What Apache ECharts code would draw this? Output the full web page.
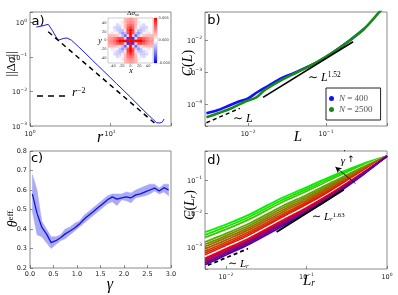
<!DOCTYPE html>
<html><head><meta charset="utf-8">
<script src="https://cdn.jsdelivr.net/npm/echarts@6.0.0/dist/echarts.min.js"></script>
<style>html,body{margin:0;padding:0;background:#fff;overflow:hidden}#chart{width:398px;height:295px}</style>
</head><body><div id="chart"></div>
<script>
// ===== Panel a: ||Δσ|| versus r =====
const aR      = [1.2,1.4,1.69,1.9,2.1,2.26,2.6,2.9,3.3,4,5,6,7,8,10,12,15,18,22,26,30,34,38,42,45,47.3];
const aDSigma = [0.75,0.8,0.9,0.6,0.4,0.31,0.35,0.36,0.31,0.205,0.125,0.082,0.058,0.043,0.026,0.0172,0.0104,0.0069,0.0043,0.0029,0.0021,0.0016,0.00125,0.00122,0.0013,0.0016];
const aGuideR   = [1.69, 36.5];
const aGuideVal = [0.547, 0.00118];
// inset: Δσ_xx map in units of 1e-3, one octant (row = larger |index|, col = smaller |index|)
const insetStep = 6;
const insetOctant = [
  [10],
  [10,-4],
  [10,1.0,-3],
  [7,3.4,-1.2,-2.1],
  [5.5,3.7,0.5,-1.2,-1.3],
  [4,3.1,1.2,-0.3,-0.9,-1.0],
  [3,2.6,1.4,0.3,-0.45,-0.75,null],
  [2.4,2.1,1.4,0.6,-0.1,null,null,null],
  [2,1.8,1.4,null,null,null,null,null,null]
];
const insetCbar = [-5, 5];

// ===== Panel b: C(L) =====
const bL400  = [0.00292,0.00412,0.00554,0.00745,0.01,0.0134,0.018,0.0265,0.0397,0.0716,0.117,0.191,0.313];
const bC400  = [5.13e-5,6.49e-5,8.66e-5,1.18e-4,1.51e-4,2.42e-4,3.65e-4,6.35e-4,9.55e-4,1.85e-3,3.8e-3,8.8e-3,0.023];
const bL2500 = [0.00292,0.00412,0.00611,0.00907,0.01277,0.01636,0.02674,0.0438,0.0716,0.117,0.191,0.313,0.487,0.56];
const bC2500 = [3.84e-5,5.13e-5,7.35e-5,1.18e-4,1.62e-4,2.74e-4,5.62e-4,1.02e-3,1.87e-3,3.84e-3,8.85e-3,0.0232,0.0766,0.11];
const bFitL = [0.01556, 0.222], bFitC = [1.62e-4, 8.85e-3];
const bLinL = [0.00292, 0.00783], bLinC = [2.61e-5, 7.35e-5];
const bNames = ['N = 400', 'N = 2500'];

// ===== Panel c: θ_eff versus γ =====
const cGamma = [0.05,0.15,0.25,0.35,0.45,0.55,0.65,0.75,0.85,0.95,1.05,1.15,1.25,1.35,1.45,1.55,1.65,1.75,1.85,1.95,2.05,2.15,2.25,2.35,2.45,2.55,2.65,2.75,2.85,2.95];
const cMean  = [0.58,0.48,0.41,0.375,0.33,0.34,0.355,0.375,0.39,0.405,0.425,0.45,0.47,0.49,0.51,0.53,0.55,0.565,0.553,0.56,0.565,0.56,0.575,0.58,0.59,0.60,0.61,0.595,0.612,0.60];
const cUpper = [0.68,0.60,0.44,0.40,0.36,0.36,0.37,0.40,0.41,0.43,0.44,0.47,0.49,0.51,0.53,0.55,0.57,0.58,0.58,0.58,0.59,0.585,0.60,0.61,0.62,0.63,0.63,0.61,0.63,0.63];
const cLower = [0.49,0.37,0.36,0.33,0.30,0.32,0.34,0.35,0.37,0.39,0.41,0.43,0.45,0.47,0.49,0.51,0.53,0.54,0.52,0.55,0.545,0.535,0.56,0.565,0.57,0.58,0.595,0.58,0.59,0.57];

// ===== Panel d: C(L_r) for increasing shear rate =====
const dL = [0.0055,0.01,0.02,0.05,0.1,0.2,0.5,1];
const dCurvesLog10 = [
  [-2.56,-2.33,-2.02,-1.53,-1.22,-0.90,-0.52,-0.29],
  [-2.64,-2.40,-2.09,-1.60,-1.28,-0.95,-0.546,-0.29],
  [-2.715,-2.476,-2.161,-1.666,-1.342,-1.001,-0.573,-0.29],
  [-2.793,-2.548,-2.231,-1.734,-1.402,-1.051,-0.599,-0.29],
  [-2.851,-2.603,-2.284,-1.785,-1.448,-1.089,-0.619,-0.29],
  [-2.919,-2.667,-2.346,-1.844,-1.501,-1.133,-0.642,-0.29],
  [-2.987,-2.73,-2.407,-1.904,-1.554,-1.177,-0.665,-0.29],
  [-3.055,-2.794,-2.469,-1.963,-1.608,-1.221,-0.688,-0.29],
  [-3.123,-2.858,-2.53,-2.023,-1.661,-1.265,-0.711,-0.29],
  [-3.181,-2.912,-2.583,-2.074,-1.706,-1.303,-0.731,-0.29],
  [-3.239,-2.967,-2.636,-2.125,-1.752,-1.341,-0.751,-0.29],
  [-3.288,-3.013,-2.68,-2.168,-1.79,-1.373,-0.768,-0.29],
  [-3.336,-3.058,-2.724,-2.21,-1.828,-1.404,-0.784,-0.29],
  [-3.385,-3.104,-2.768,-2.253,-1.866,-1.436,-0.80,-0.29],
  [-3.433,-3.149,-2.812,-2.295,-1.904,-1.467,-0.817,-0.29],
  [-3.482,-3.195,-2.856,-2.338,-1.942,-1.499,-0.834,-0.29],
  [-3.53,-3.24,-2.90,-2.38,-1.98,-1.53,-0.85,-0.29]
];
const dColors = ['#00f000','#1ee000','#3cc800','#ffffff','#5aa800','#789000','#947400','#ae5a00','#c84000','#e02400','#f50a00','#ffffff','#e00020','#c00040','#9c0064','#78008a','#5000b4'];
const dFitL = [0.0426, 0.29], dFitC = [2.8e-3, 0.0513];
const dLinL = [0.00596, 0.0188], dLinC = [2.84e-4, 8.9e-4];
const dArrowFrom = [0.406, 0.0776], dArrowTo = [0.229, 0.244];

// ===================================================================
const SANS = '"DejaVu Sans", sans-serif';
const SERIF = '"Liberation Serif", "DejaVu Serif", serif';
const pair = (xs, ys) => xs.map((x, i) => [x, ys[i]]);

const tickRich = {
  b: {fontSize: 6.5, fontFamily: SANS, color: '#222', lineHeight: 9, verticalAlign: 'bottom'},
  s: {fontSize: 4.5, fontFamily: SANS, color: '#222', lineHeight: 6, verticalAlign: 'top'}
};
function powLabel(v) {
  const e = Math.log10(v), r = Math.round(e);
  if (Math.abs(e - r) > 1e-6) return '';
  return '{b|10}{s|' + (r < 0 ? '\u2212' + (-r) : r) + '}';
}
const tickStyle = {show: true, inside: true, length: 3, lineStyle: {color: '#444', width: 0.6}};
function logAxis(gridIndex, min, max) {
  return {type: 'log', logBase: 10, gridIndex, min, max,
    axisLine: {show: false}, splitLine: {show: false}, axisTick: tickStyle,
    axisLabel: {formatter: powLabel, rich: tickRich, margin: 3}};
}
function linAxis(gridIndex, min, max, interval, fmt) {
  return {type: 'value', gridIndex, min, max, interval,
    axisLine: {show: false}, splitLine: {show: false}, axisTick: tickStyle,
    axisLabel: {formatter: fmt, fontSize: 6.5, fontFamily: SANS, color: '#222', margin: 3}};
}
function insetAxis(gridIndex) {
  return {type: 'value', gridIndex, min: -51, max: 51,
    axisLine: {show: false}, splitLine: {show: false},
    axisTick: {show: true, inside: true, length: 1.5, lineStyle: {color: '#666', width: 0.4}},
    axisLabel: {formatter: v => (Math.abs(v) % 20 === 0 ? String(v) : ''), fontSize: 3.6, fontFamily: SANS, color: '#333', margin: 1.5}};
}

// inset cells built from the octant table by symmetry
const insetCells = [];
const nI = insetOctant.length - 1;
for (let i = -nI; i <= nI; i++) for (let j = -nI; j <= nI; j++) {
  const a = Math.abs(i), b = Math.abs(j);
  const v = insetOctant[Math.max(a, b)][Math.min(a, b)];
  if (v == null) continue;
  insetCells.push([i * insetStep, j * insetStep, v]);
}
function bwr(v) {
  let t = Math.max(-1, Math.min(1, v / insetCbar[1]));
  if (t >= 0) { const c = Math.round(255 * (1 - t)); return 'rgb(255,' + c + ',' + c + ')'; }
  const c = Math.round(255 * (1 + t)); return 'rgb(' + c + ',' + c + ',255)';
}

const grids = [
  {left: 30, top: 12, width: 141, height: 114},
  {left: 108, top: 18, width: 45, height: 45, borderColor: '#999', borderWidth: 0.5, backgroundColor: '#fff'},
  {left: 154, top: 18, width: 3, height: 45, borderColor: '#999', borderWidth: 0.5},
  {left: 205, top: 12, width: 182, height: 114},
  {left: 30, top: 151, width: 141, height: 117},
  {left: 205, top: 151, width: 182, height: 118}
].map(g => Object.assign({show: true, borderColor: '#8a8a8a', borderWidth: 1, containLabel: false, outerBoundsMode: 'none'}, g));

const xAxes = [
  logAxis(0, 1, 57.7),
  insetAxis(1),
  {type: 'value', gridIndex: 2, min: 0, max: 1, show: false},
  logAxis(3, 0.0028, 0.605),
  linAxis(4, 0, 3, 0.5, v => v.toFixed(1)),
  logAxis(5, 0.0055, 1)
];
const yAxes = [
  logAxis(0, 0.001, 2.05),
  insetAxis(1),
  {type: 'value', gridIndex: 2, min: insetCbar[0], max: insetCbar[1], interval: 5, position: 'right',
    axisLine: {show: false}, splitLine: {show: false}, axisTick: {show: false},
    axisLabel: {formatter: v => (v / 1000).toFixed(3), fontSize: 3.6, fontFamily: SANS, color: '#333', margin: 1.5}},
  logAxis(3, 2.06e-5, 0.075),
  linAxis(4, 0.2, 0.8, 0.1, v => v.toFixed(1)),
  logAxis(5, 2.2e-4, 0.73)
];

const series = [];
// a
series.push({type: 'line', xAxisIndex: 0, yAxisIndex: 0, data: pair(aR, aDSigma), symbol: 'none', lineStyle: {color: '#1a1aff', width: 1}, z: 3});
series.push({type: 'line', xAxisIndex: 0, yAxisIndex: 0, data: pair(aGuideR, aGuideVal), symbol: 'none', lineStyle: {color: '#000', width: 1.5, type: [5, 4]}, z: 4});
series.push({type: 'custom', xAxisIndex: 1, yAxisIndex: 1, data: insetCells, z: 5,
  renderItem: (params, api) => {
    const x = api.value(0), y = api.value(1), v = api.value(2), h = insetStep / 2;
    const p0 = api.coord([x - h, y + h]), p1 = api.coord([x + h, y - h]);
    return {type: 'rect', shape: {x: p0[0], y: p0[1], width: p1[0] - p0[0] + 0.4, height: p1[1] - p0[1] + 0.4}, style: {fill: bwr(v)}};
  }});
series.push({type: 'custom', xAxisIndex: 2, yAxisIndex: 2, data: [[0]], z: 5,
  renderItem: (params, api) => {
    const p0 = api.coord([0, insetCbar[1]]), p1 = api.coord([1, insetCbar[0]]);
    return {type: 'rect', shape: {x: p0[0], y: p0[1], width: p1[0] - p0[0], height: p1[1] - p0[1]},
      style: {fill: {type: 'linear', x: 0, y: 0, x2: 0, y2: 1, colorStops: [{offset: 0, color: '#ff0000'}, {offset: 0.5, color: '#ffffff'}, {offset: 1, color: '#0000ff'}]}}};
  }});
// b
series.push({name: bNames[0], type: 'line', xAxisIndex: 3, yAxisIndex: 3, data: pair(bL400, bC400), symbol: 'none', smooth: 0.3, lineStyle: {color: '#1010ff', width: 2.6}, itemStyle: {color: '#1010ff'}});
series.push({name: bNames[1], type: 'line', xAxisIndex: 3, yAxisIndex: 3, data: pair(bL2500, bC2500), symbol: 'none', smooth: 0.3, lineStyle: {color: '#178a17', width: 2.6}, itemStyle: {color: '#178a17'}});
series.push({type: 'line', xAxisIndex: 3, yAxisIndex: 3, data: pair(bFitL, bFitC), symbol: 'none', lineStyle: {color: '#000', width: 1.6}});
series.push({type: 'line', xAxisIndex: 3, yAxisIndex: 3, data: pair(bLinL, bLinC), symbol: 'none', lineStyle: {color: '#000', width: 1.5, type: [4, 3]}});
// c : band drawn as one polygon through the axis scales, then the mean line
series.push({type: 'custom', xAxisIndex: 4, yAxisIndex: 4, data: [[cGamma[0], cMean[0]]], z: 2,
  renderItem: (params, api) => {
    const pts = [];
    cGamma.forEach((g, i) => pts.push(api.coord([g, cUpper[i]])));
    for (let i = cGamma.length - 1; i >= 0; i--) pts.push(api.coord([cGamma[i], cLower[i]]));
    return {type: 'polygon', shape: {points: pts}, style: {fill: '#a9a9f4', stroke: '#a9a9f4', lineWidth: 0.5}};
  }});
series.push({type: 'line', xAxisIndex: 4, yAxisIndex: 4, data: pair(cGamma, cMean), symbol: 'none', lineStyle: {color: '#1212e0', width: 1.3}, z: 4});
// d
dCurvesLog10.forEach((c, k) => {
  series.push({type: 'line', xAxisIndex: 5, yAxisIndex: 5, data: dL.map((L, i) => [L, Math.pow(10, c[i])]), symbol: 'none', smooth: 0.35, lineStyle: {color: dColors[k], width: 1.8}});
});
series.push({type: 'line', xAxisIndex: 5, yAxisIndex: 5, data: pair(dFitL, dFitC), symbol: 'none', lineStyle: {color: '#000', width: 2}, z: 4});
series.push({type: 'line', xAxisIndex: 5, yAxisIndex: 5, data: pair(dLinL, dLinC), symbol: 'none', lineStyle: {color: '#000', width: 1.8, type: [4, 3]}, z: 4,
  markLine: {silent: true, symbol: ['none', 'arrow'], symbolSize: [5, 6], label: {show: false}, lineStyle: {color: '#000', width: 0.8, type: 'solid'},
    data: [[{coord: dArrowFrom}, {coord: dArrowTo}]]}});

const txt = (x, y, text, extra) => ({type: 'text', x, y, z: 100,
  style: Object.assign({text, fill: '#000', align: 'center', verticalAlign: 'middle'}, extra)});
const mathRich = (size) => ({
  i: {fontFamily: SERIF, fontStyle: 'italic', fontSize: size},
  n: {fontFamily: SERIF, fontSize: size},
  sup: {fontFamily: SERIF, fontSize: size * 0.62, verticalAlign: 'top', lineHeight: size * 0.7},
  sub: {fontFamily: SERIF, fontStyle: 'italic', fontSize: size * 0.62, verticalAlign: 'bottom', lineHeight: size * 0.7}
});
const graphics = [
  txt(38, 22, 'a)', {font: '13px ' + SANS}),
  txt(214, 21, 'b)', {font: '13px ' + SANS}),
  txt(37, 159, 'c)', {font: '13px ' + SANS}),
  txt(214, 161, 'd)', {font: '13px ' + SANS}),
  // axis titles
  Object.assign(txt(12, 64, '{n|||Δ}{i|σ}{n|||}', {rich: mathRich(13)}), {rotation: Math.PI / 2}),
  txt(100, 138, '{i|r}', {rich: mathRich(16)}),
  Object.assign(txt(188, 63, '{i|C}{n|(}{i|L}{n|)}', {rich: mathRich(14)}), {rotation: Math.PI / 2}),
  txt(298, 137, '{i|L}', {rich: mathRich(15)}),
  Object.assign(txt(13, 218, '{i|θ}{sup|eff.}', {rich: mathRich(14)}), {rotation: Math.PI / 2}),
  txt(110, 285, '{i|γ}', {rich: mathRich(16)}),
  Object.assign(txt(190, 205, '{i|C}{n|(}{i|L}{sub|r}{n|)}', {rich: mathRich(14)}), {rotation: Math.PI / 2}),
  txt(309, 281, '{i|L}{sub|r}', {rich: mathRich(15)}),
  // annotations
  {type: 'line', z: 100, shape: {x1: 37, y1: 96, x2: 68, y2: 96}, style: {stroke: '#000', lineWidth: 1.5, lineDash: [6, 5]}},
  txt(72, 93, '{i|r}{sup|\u22122}', {rich: mathRich(13), align: 'left'}),
  txt(308, 78, '{n|∼ }{i|L}{sup|1.52}', {rich: mathRich(12), align: 'left'}),
  txt(233, 119, '{n|∼ }{i|L}', {rich: mathRich(12), align: 'left'}),
  txt(312, 217, '{n|∼ }{i|L}{sub|r}{sup|1.63}', {rich: mathRich(11), align: 'left'}),
  txt(228, 264, '{n|∼ }{i|L}{sub|r}', {rich: mathRich(11), align: 'left'}),
  txt(343, 161, '{i|γ}', {rich: mathRich(11)}),
  txt(344.5, 154, '˙', {font: '11px ' + SERIF}),
  txt(351, 160, '↑', {font: '9px ' + SANS}),
  // inset labels
  txt(133, 13, '{n|Δ}{i|σ}{sub|xx}', {rich: mathRich(7)}),
  txt(131, 71, '{i|x}', {rich: mathRich(8)}),
  txt(100, 41, '{i|y}', {rich: mathRich(8)})
];

const option = {
  animation: false,
  backgroundColor: '#fff',
  grid: grids,
  xAxis: xAxes,
  yAxis: yAxes,
  legend: {data: bNames, orient: 'vertical', left: 326, top: 88, icon: 'circle', itemWidth: 5, itemHeight: 5,
    itemGap: 2, padding: [6, 8, 6, 3], borderColor: '#222', borderWidth: 1, backgroundColor: '#fff',
    formatter: n => '{i|N}{n| = ' + n.split('= ')[1] + '}',
    textStyle: {rich: {i: {fontFamily: SERIF, fontStyle: 'italic', fontSize: 9, lineHeight: 10}, n: {fontFamily: SERIF, fontSize: 9, lineHeight: 10}}}},
  graphic: graphics,
  series
};
const chart = echarts.init(document.getElementById('chart'), null, {renderer: 'canvas', width: 398, height: 295});
chart.setOption(option);
</script></body></html>
